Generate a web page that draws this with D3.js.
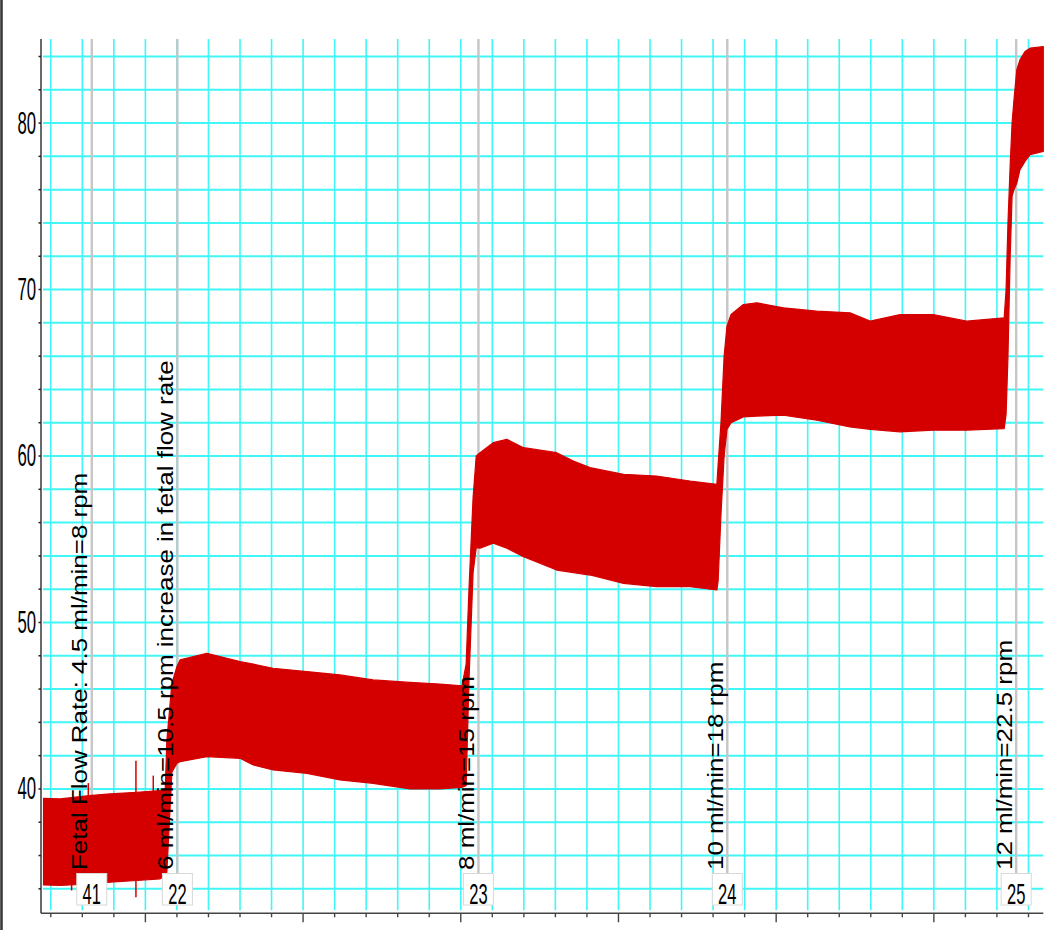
<!DOCTYPE html>
<html>
<head>
<meta charset="utf-8">
<script src="https://cdn.jsdelivr.net/npm/d3@7"></script>
<style>
  html, body { margin: 0; padding: 0; background: #ffffff; }
  svg { display: block; }
</style>
</head>
<body>
<svg id="chart" width="1057" height="930"></svg>
<script>
// ---------------- DATA ----------------
// time axis in minor-tick units (major tick every 5)
const timePoints = [-3.23, -2.70, -1.78, -1.12, -0.27, 0.47, 0.63, 0.68, 0.84, 1.00,
  1.10, 1.95, 3.00, 3.42, 4.05, 5.12, 6.17, 7.22, 8.39, 9.34, 10.04,
  10.17, 10.26, 10.39, 10.49, 10.61, 11.03, 11.46, 11.99, 13.04, 13.57, 14.10, 15.16, 16.21, 17.27, 18.12,
  18.16, 18.25, 18.35, 18.44, 18.57, 18.96, 19.39, 20.23, 21.29, 22.34, 22.98, 23.93, 24.98, 26.04, 27.23,
  27.29, 27.35, 27.42, 27.48, 27.54, 27.63, 27.73, 27.89, 28.05, 28.47];
// upper envelope of the pressure signal
const upperValues = [39.44, 39.40, 39.60, 39.70, 39.80, 39.90, 40.00, 42.90, 46.35, 47.35,
  47.75, 48.15, 47.65, 47.50, 47.25, 47.05, 46.85, 46.55, 46.40, 46.30, 46.20,
  47.50, 52.00, 57.50, 60.00, 60.20, 60.80, 61.00, 60.50, 60.20, 59.70, 59.30, 58.90, 58.80, 58.50, 58.30,
  59.50, 62.00, 66.00, 67.80, 68.50, 69.10, 69.20, 68.90, 68.70, 68.60, 68.10, 68.50, 68.50, 68.10, 68.30,
  70.00, 74.00, 77.50, 80.00, 81.40, 83.20, 83.80, 84.30, 84.50, 84.60];
// lower envelope of the pressure signal
const lowerValues = [34.23, 34.20, 34.30, 34.40, 34.50, 34.60, 34.80, 35.00, 41.00, 41.55,
  41.64, 41.94, 41.84, 41.44, 41.14, 40.94, 40.54, 40.34, 40.00, 40.00, 40.10,
  40.20, 46.50, 53.00, 54.50, 54.46, 54.76, 54.46, 53.95, 53.15, 53.00, 52.85, 52.35, 52.15, 52.15, 51.95,
  52.50, 56.50, 60.00, 61.60, 62.00, 62.35, 62.40, 62.45, 62.15, 61.75, 61.60, 61.45, 61.55, 61.55, 61.65,
  62.50, 66.00, 72.00, 75.60, 76.00, 76.40, 77.20, 77.70, 78.10, 78.30];
// isolated spikes: time, low, high
const spikeTimes = [-2.34, -1.81, -0.30, 0.25];
const spikeLows  = [33.9, 34.3, 33.5, 34.6];
const spikeHighs = [39.5, 40.35, 41.7, 40.8];

// event markers
const eventTimes  = [-1.70, 1.015, 10.56, 18.45, 27.61];
const eventLabels = ["41", "22", "23", "24", "25"];
const eventTexts  = ["Fetal Flow Rate: 4.5 ml/min=8 rpm",
  "6 ml/min=10.5 rpm increase in fetal flow rate",
  "8 ml/min=15 rpm", "10 ml/min=18 rpm", "12 ml/min=22.5 rpm"];

// axes
const yLabelTicks = [40, 50, 60, 70, 80];
const yGridValues = d3.range(34, 85, 2);
const xGridValues = d3.range(-3, 29, 1);
const xMajorTicks = [0, 5, 10, 15, 20, 25];

// ---------------- DRAWING ----------------
const svg = d3.select("#chart");
const plotL = 41, plotR = 1043.3, plotT = 39, plotB = 913.3;
const x = d3.scaleLinear().domain([-3.31, 28.47]).range([plotL, plotR]);
const y = d3.scaleLinear().domain([32.53, 85.05]).range([plotB, plotT]);

const RED = "#d40000", CYAN = "#40f6f6", EVGRAY = "#c6c6c6", AXIS = "#444";
const STRETCH = 1.18;
const FONT = "'Liberation Sans', Arial, sans-serif";

// left frame line
svg.append("line").attr("x1", 1.5).attr("x2", 1.5).attr("y1", 0).attr("y2", 930)
  .attr("stroke", "#3a3a3a").attr("stroke-width", 2.6);

// grid
const grid = svg.append("g");
grid.selectAll("line.h").data(yGridValues).join("line")
  .attr("x1", plotL + 2).attr("x2", plotR)
  .attr("y1", d => y(d)).attr("y2", d => y(d))
  .attr("stroke", CYAN).attr("stroke-width", 2);
grid.selectAll("line.v").data(xGridValues).join("line")
  .attr("y1", plotT).attr("y2", plotB - 3)
  .attr("x1", d => x(d)).attr("x2", d => x(d))
  .attr("stroke", CYAN).attr("stroke-width", 1.6);

// event lines
const boxTop = 873.5, boxBottom = 905, boxW = 30;
svg.append("g").selectAll("line").data(eventTimes).join("line")
  .attr("x1", d => x(d)).attr("x2", d => x(d))
  .attr("y1", plotT).attr("y2", boxTop)
  .attr("stroke", EVGRAY).attr("stroke-width", 2.4);

// signal band
const band = timePoints.map((t, i) => ({t, hi: upperValues[i], lo: lowerValues[i]}));
svg.append("path").datum(band)
  .attr("d", d3.area().x(d => x(d.t)).y0(d => y(d.lo)).y1(d => y(d.hi)))
  .attr("fill", RED).attr("stroke", RED).attr("stroke-width", 1.2).attr("stroke-linejoin", "round");
svg.append("g").selectAll("line").data(spikeTimes).join("line")
  .attr("x1", d => x(d)).attr("x2", d => x(d))
  .attr("y1", (d, i) => y(spikeLows[i])).attr("y2", (d, i) => y(spikeHighs[i]))
  .attr("stroke", RED).attr("stroke-width", 1.5);

// event texts (rotated)
svg.append("g").selectAll("text").data(eventTexts).join("text")
  .attr("transform", (d, i) => `translate(${x(eventTimes[i]) - 4.5},870) scale(1,${STRETCH}) rotate(-90)`)
  .attr("font-family", FONT)
  .attr("font-size", 22).attr("fill", "#000")
  .text(d => d);

// event boxes
const boxes = svg.append("g").selectAll("g").data(eventTimes).join("g");
boxes.append("rect")
  .attr("x", d => x(d) - boxW / 2).attr("y", boxTop)
  .attr("width", boxW).attr("height", boxBottom - boxTop)
  .attr("fill", "#fff").attr("stroke", "#d8d8d8").attr("stroke-width", 1);
boxes.append("text")
  .attr("transform", d => `translate(${x(d)},904) scale(0.66,${STRETCH})`)
  .attr("text-anchor", "middle")
  .attr("font-family", FONT)
  .attr("font-size", 25).attr("fill", "#000")
  .text((d, i) => eventLabels[i]);

// y axis
svg.append("line").attr("x1", plotL).attr("x2", plotL).attr("y1", plotT).attr("y2", plotB)
  .attr("stroke", AXIS).attr("stroke-width", 1.6);
svg.append("g").selectAll("line").data(yGridValues).join("line")
  .attr("x1", plotL - 2.5).attr("x2", plotL)
  .attr("y1", d => y(d)).attr("y2", d => y(d))
  .attr("stroke", "#222").attr("stroke-width", 1.5);
svg.append("g").selectAll("text").data(yLabelTicks).join("text")
  .attr("transform", d => `translate(36,${y(d) - 1}) scale(0.62,${STRETCH})`)
  .attr("text-anchor", "end").attr("dy", "0.36em")
  .attr("font-family", FONT)
  .attr("font-size", 27).attr("fill", "#000")
  .text(d => d);

// x axis
svg.append("line").attr("x1", plotL).attr("x2", plotR).attr("y1", plotB).attr("y2", plotB)
  .attr("stroke", AXIS).attr("stroke-width", 1.6);
svg.append("g").selectAll("line").data(xGridValues).join("line")
  .attr("x1", d => x(d)).attr("x2", d => x(d))
  .attr("y1", plotB).attr("y2", d => plotB + (xMajorTicks.includes(d) ? 9 : 4))
  .attr("stroke", AXIS).attr("stroke-width", 1.4);
</script>
</body>
</html>
